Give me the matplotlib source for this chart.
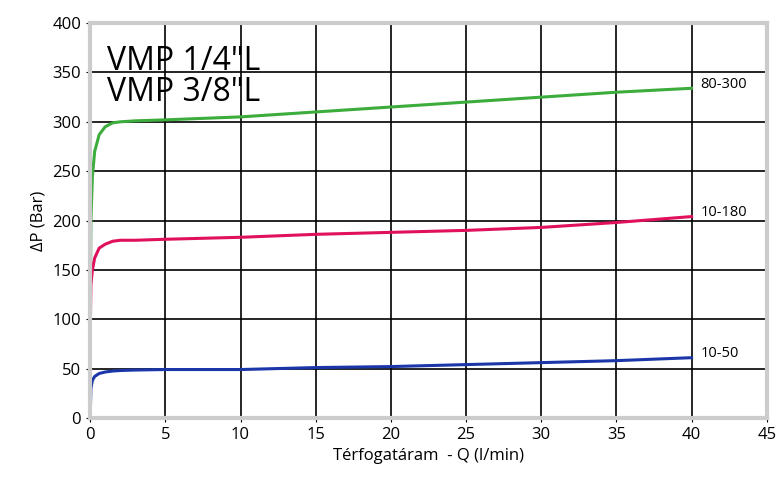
import matplotlib.pyplot as plt
import numpy as np

# flow (l/min) vs pressure drop (bar)
q_green = [0.0, 0.05, 0.15, 0.3, 0.6, 1.0, 1.5, 2.0, 3.0, 5.0, 10, 15, 20, 25, 30, 35, 40]
p_green = [80, 200, 245, 270, 287, 295, 299, 300, 301, 302, 305, 310, 315, 320, 325, 330, 334]
q_pink = [0.0, 0.05, 0.15, 0.3, 0.6, 1.0, 1.5, 2.0, 3.0, 5.0, 10, 15, 20, 25, 30, 35, 40]
p_pink = [80, 135, 150, 162, 172, 176, 179, 180, 180, 181, 183, 186, 188, 190, 193, 198, 204]
q_blue = [0.0, 0.05, 0.15, 0.3, 0.6, 1.0, 1.5, 2.0, 3.0, 5.0, 10, 15, 20, 25, 30, 35, 40]
p_blue = [0, 30, 38, 42, 45, 46.5, 47.5, 48, 48.5, 49, 49, 51, 52, 54, 56, 58, 61]

series_labels = ['80-300', '10-180', '10-50']
colors = ['#3cac3c', '#e0105c', '#1a36a8']

fig = plt.figure(figsize=(7.84, 4.82), dpi=100)
ax = fig.add_axes([0.115, 0.133, 0.863, 0.819])

ax.plot(q_green, p_green, color=colors[0], lw=2.2)
ax.plot(q_pink, p_pink, color=colors[1], lw=2.2)
ax.plot(q_blue, p_blue, color=colors[2], lw=2.2)

for q, p, lab in [(q_green, p_green, series_labels[0]),
                  (q_pink, p_pink, series_labels[1]),
                  (q_blue, p_blue, series_labels[2])]:
    ax.text(q[-1] + 0.6, p[-1] + 4, lab, fontsize=10.5, va='center', ha='left',
            family='Open Sans')

ax.text(1.1, 353, 'VMP 1/4"L', fontsize=23, family='Open Sans', va='baseline')
ax.text(1.1, 321, 'VMP 3/8"L', fontsize=23, family='Open Sans', va='baseline')

ax.set_xlim(0, 45)
ax.set_ylim(0, 400)
ax.set_xticks(np.arange(0, 46, 5))
ax.set_yticks(np.arange(0, 401, 50))
ax.grid(True, color='black', lw=1.2)
ax.set_axisbelow(True)
for s in ax.spines.values():
    s.set_color('#cccccc')
    s.set_linewidth(3)
ax.tick_params(labelsize=12, length=3, color='black')
for t in ax.get_xticklabels() + ax.get_yticklabels():
    t.set_family('Open Sans')

ax.set_xlabel('Térfogatáram  - Q (l/min)', fontsize=12, family='Open Sans')
ax.set_ylabel('ΔP (Bar)', fontsize=12, family='Open Sans')

fig.savefig('out.png', dpi=100)
